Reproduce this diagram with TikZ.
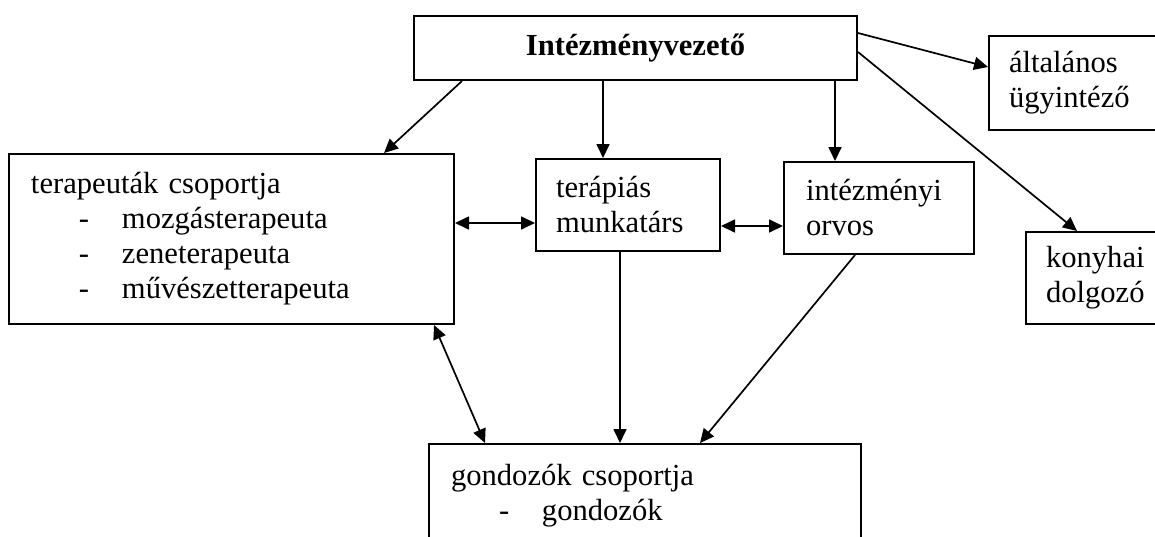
\documentclass[tikz,border=0pt]{standalone}
\usepackage{fontspec}
\setmainfont{Liberation Serif}
\usetikzlibrary{arrows.meta}
\newcommand{\tetel}[1]{\hspace*{24pt}\makebox[21.5pt][l]{-}#1}

\begin{document}
\begin{tikzpicture}[x=0.5pt, y=-0.5pt,
  doboz/.style={draw, line width=1pt, inner xsep=10pt, inner ysep=4pt, align=left,
    font=\fontsize{15.3pt}{17.5pt}\selectfont, anchor=north west},
  nyil/.style={line width=0.85pt, -{Triangle[length=7pt,width=6.5pt]}},
  kettos/.style={line width=0.85pt, {Triangle[length=7pt,width=6.5pt]}-{Triangle[length=7pt,width=6.5pt]}}]
\useasboundingbox (0,0) rectangle (1155,536);

\node[doboz, align=center, text width=201.5pt, minimum height=32pt,
  font=\fontsize{15.3pt}{17.5pt}\selectfont\bfseries] (vezeto) at (413,15) {Intézményvezető};
\node[doboz, text width=71pt, minimum height=47pt] (altalanos) at (988,35) {általános\\ügyintéző};
\node[doboz, text width=52.5pt, minimum height=46pt] (konyhai) at (1025,231) {konyhai\\dolgozó};
\node[doboz, inner xsep=11pt, text width=200.5pt, minimum height=85pt] (terapeutak) at (8,153) {%
terapeuták csoportja\\
\tetel{mozgásterapeuta}\\
\tetel{zeneterapeuta}\\
\tetel{művészetterapeuta}};
\node[doboz, text width=72pt, minimum height=46pt] (munkatars) at (535,158) {terápiás\\munkatárs};
\node[doboz, inner xsep=11pt, text width=73pt, minimum height=46pt] (orvos) at (783,161) {intézményi\\orvos};
\node[doboz, inner xsep=11pt, inner ysep=10pt, text width=194pt, text depth=30pt] (gondozok) at (428,443) {%
gondozók csoportja\\
\tetel{gondozók}};

\draw[nyil] ([xshift=24.5pt]vezeto.south west) -- ([xshift=-35.5pt]terapeutak.north east);
\draw[nyil] ([xshift=95pt]vezeto.south west) -- ([xshift=34pt]munkatars.north west);
\draw[nyil] ([xshift=211pt]vezeto.south west) -- ([xshift=26pt]orvos.north west);
\draw[nyil] ([yshift=-9pt]vezeto.north east) -- ([yshift=-16pt]altalanos.north west);
\draw[nyil] ([yshift=-18.5pt]vezeto.north east) -- ([xshift=26pt]konyhai.north west);
\draw[kettos] ([yshift=8pt]terapeutak.east) -- ([yshift=-9pt]munkatars.west);
\draw[kettos] ([yshift=-10.5pt]munkatars.east) -- ([yshift=-9pt]orvos.west);
\draw[kettos] ([xshift=-10.5pt]terapeutak.south east) -- ([xshift=28.5pt]gondozok.north west);
\draw[nyil] ([xshift=42.5pt]munkatars.south west) -- ([xshift=96pt]gondozok.north west);
\draw[nyil] ([xshift=36pt]orvos.south west) -- ([xshift=136pt]gondozok.north west);
\end{tikzpicture}
\end{document}
